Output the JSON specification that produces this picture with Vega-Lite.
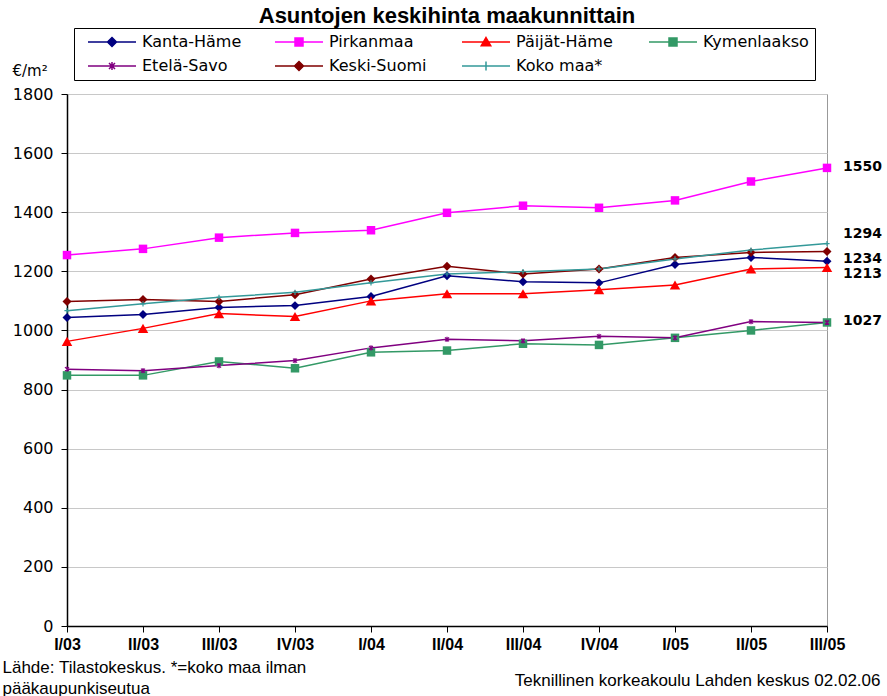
{
  "$schema": "https://vega.github.io/schema/vega-lite/v6.json",
  "width": 760,
  "height": 532,
  "autosize": "none",
  "padding": {"left": 67, "top": 94, "right": 60, "bottom": 70},
  "background": "white",
  "title": {
    "text": "Asuntojen keskihinta maakunnittain",
    "font": "Liberation Sans",
    "fontSize": 22,
    "fontWeight": "bold",
    "color": "#000",
    "anchor": "middle",
    "offset": 0
  },
  "datasets": {
    "hinnat": [
      {"kausi": "I/03", "alue": "Kanta-Häme", "hinta": 1044},
      {"kausi": "II/03", "alue": "Kanta-Häme", "hinta": 1054},
      {"kausi": "III/03", "alue": "Kanta-Häme", "hinta": 1078},
      {"kausi": "IV/03", "alue": "Kanta-Häme", "hinta": 1084},
      {"kausi": "I/04", "alue": "Kanta-Häme", "hinta": 1115},
      {"kausi": "II/04", "alue": "Kanta-Häme", "hinta": 1185},
      {"kausi": "III/04", "alue": "Kanta-Häme", "hinta": 1165},
      {"kausi": "IV/04", "alue": "Kanta-Häme", "hinta": 1161},
      {"kausi": "I/05", "alue": "Kanta-Häme", "hinta": 1223},
      {"kausi": "II/05", "alue": "Kanta-Häme", "hinta": 1247},
      {"kausi": "III/05", "alue": "Kanta-Häme", "hinta": 1234},
      {"kausi": "I/03", "alue": "Pirkanmaa", "hinta": 1255},
      {"kausi": "II/03", "alue": "Pirkanmaa", "hinta": 1276},
      {"kausi": "III/03", "alue": "Pirkanmaa", "hinta": 1314},
      {"kausi": "IV/03", "alue": "Pirkanmaa", "hinta": 1330},
      {"kausi": "I/04", "alue": "Pirkanmaa", "hinta": 1339},
      {"kausi": "II/04", "alue": "Pirkanmaa", "hinta": 1398},
      {"kausi": "III/04", "alue": "Pirkanmaa", "hinta": 1422},
      {"kausi": "IV/04", "alue": "Pirkanmaa", "hinta": 1415},
      {"kausi": "I/05", "alue": "Pirkanmaa", "hinta": 1440},
      {"kausi": "II/05", "alue": "Pirkanmaa", "hinta": 1504},
      {"kausi": "III/05", "alue": "Pirkanmaa", "hinta": 1550},
      {"kausi": "I/03", "alue": "Päijät-Häme", "hinta": 963},
      {"kausi": "II/03", "alue": "Päijät-Häme", "hinta": 1007},
      {"kausi": "III/03", "alue": "Päijät-Häme", "hinta": 1057},
      {"kausi": "IV/03", "alue": "Päijät-Häme", "hinta": 1047},
      {"kausi": "I/04", "alue": "Päijät-Häme", "hinta": 1100},
      {"kausi": "II/04", "alue": "Päijät-Häme", "hinta": 1124},
      {"kausi": "III/04", "alue": "Päijät-Häme", "hinta": 1124},
      {"kausi": "IV/04", "alue": "Päijät-Häme", "hinta": 1138},
      {"kausi": "I/05", "alue": "Päijät-Häme", "hinta": 1154},
      {"kausi": "II/05", "alue": "Päijät-Häme", "hinta": 1208},
      {"kausi": "III/05", "alue": "Päijät-Häme", "hinta": 1213},
      {"kausi": "I/03", "alue": "Kymenlaakso", "hinta": 848},
      {"kausi": "II/03", "alue": "Kymenlaakso", "hinta": 848},
      {"kausi": "III/03", "alue": "Kymenlaakso", "hinta": 895},
      {"kausi": "IV/03", "alue": "Kymenlaakso", "hinta": 872},
      {"kausi": "I/04", "alue": "Kymenlaakso", "hinta": 926},
      {"kausi": "II/04", "alue": "Kymenlaakso", "hinta": 932},
      {"kausi": "III/04", "alue": "Kymenlaakso", "hinta": 955},
      {"kausi": "IV/04", "alue": "Kymenlaakso", "hinta": 951},
      {"kausi": "I/05", "alue": "Kymenlaakso", "hinta": 975},
      {"kausi": "II/05", "alue": "Kymenlaakso", "hinta": 1000},
      {"kausi": "III/05", "alue": "Kymenlaakso", "hinta": 1027},
      {"kausi": "I/03", "alue": "Etelä-Savo", "hinta": 869},
      {"kausi": "II/03", "alue": "Etelä-Savo", "hinta": 864},
      {"kausi": "III/03", "alue": "Etelä-Savo", "hinta": 881},
      {"kausi": "IV/03", "alue": "Etelä-Savo", "hinta": 898},
      {"kausi": "I/04", "alue": "Etelä-Savo", "hinta": 941},
      {"kausi": "II/04", "alue": "Etelä-Savo", "hinta": 970},
      {"kausi": "III/04", "alue": "Etelä-Savo", "hinta": 965},
      {"kausi": "IV/04", "alue": "Etelä-Savo", "hinta": 980},
      {"kausi": "I/05", "alue": "Etelä-Savo", "hinta": 975},
      {"kausi": "II/05", "alue": "Etelä-Savo", "hinta": 1030},
      {"kausi": "III/05", "alue": "Etelä-Savo", "hinta": 1027},
      {"kausi": "I/03", "alue": "Keski-Suomi", "hinta": 1098},
      {"kausi": "II/03", "alue": "Keski-Suomi", "hinta": 1105},
      {"kausi": "III/03", "alue": "Keski-Suomi", "hinta": 1098},
      {"kausi": "IV/03", "alue": "Keski-Suomi", "hinta": 1121},
      {"kausi": "I/04", "alue": "Keski-Suomi", "hinta": 1174},
      {"kausi": "II/04", "alue": "Keski-Suomi", "hinta": 1217},
      {"kausi": "III/04", "alue": "Keski-Suomi", "hinta": 1191},
      {"kausi": "IV/04", "alue": "Keski-Suomi", "hinta": 1208},
      {"kausi": "I/05", "alue": "Keski-Suomi", "hinta": 1247},
      {"kausi": "II/05", "alue": "Keski-Suomi", "hinta": 1264},
      {"kausi": "III/05", "alue": "Keski-Suomi", "hinta": 1267},
      {"kausi": "I/03", "alue": "Koko maa*", "hinta": 1067},
      {"kausi": "II/03", "alue": "Koko maa*", "hinta": 1090},
      {"kausi": "III/03", "alue": "Koko maa*", "hinta": 1112},
      {"kausi": "IV/03", "alue": "Koko maa*", "hinta": 1129},
      {"kausi": "I/04", "alue": "Koko maa*", "hinta": 1161},
      {"kausi": "II/04", "alue": "Koko maa*", "hinta": 1191},
      {"kausi": "III/04", "alue": "Koko maa*", "hinta": 1199},
      {"kausi": "IV/04", "alue": "Koko maa*", "hinta": 1208},
      {"kausi": "I/05", "alue": "Koko maa*", "hinta": 1242},
      {"kausi": "II/05", "alue": "Koko maa*", "hinta": 1272},
      {"kausi": "III/05", "alue": "Koko maa*", "hinta": 1294}
    ]
  },
  "data": {"name": "hinnat"},
  "encoding": {
    "x": {
      "field": "kausi",
      "type": "ordinal",
      "sort": ["I/03", "II/03", "III/03", "IV/03", "I/04", "II/04", "III/04", "IV/04", "I/05", "II/05", "III/05"],
      "scale": {"type": "point", "padding": 0},
      "axis": {
        "title": ["Lähde: Tilastokeskus. *=koko maa ilman", "pääkaupunkiseutua"],
        "titleX": -65,
        "titleY": 33,
        "titleAlign": "left",
        "titleAnchor": "start",
        "titleBaseline": "top",
        "titleFont": "Liberation Sans",
        "titleFontSize": 17,
        "titleFontWeight": "normal",
        "titleColor": "#000",
        "titleLineHeight": 21,
        "labelAngle": 0,
        "labelFont": "Liberation Sans Narrow, Liberation Sans, sans-serif",
        "labelFontWeight": "bold",
        "labelFontSize": 16,
        "labelColor": "#000",
        "labelPadding": 4,
        "tickSize": 6,
        "tickColor": "#000",
        "domainColor": "#000",
        "domainWidth": 1.5,
        "grid": false
      }
    },
    "y": {
      "field": "hinta",
      "type": "quantitative",
      "scale": {"domain": [0, 1800], "nice": false},
      "axis": null
    }
  },
  "layer": [
    {
      "mark": {"type": "line", "strokeWidth": 1.5},
      "encoding": {
        "y": {
          "field": "hinta",
          "type": "quantitative",
          "scale": {"domain": [0, 1800], "nice": false},
          "axis": {
            "title": "€/m²",
            "titleAngle": 0,
            "titleX": -55,
            "titleY": -24,
            "titleAlign": "left",
            "titleBaseline": "middle",
            "titleFont": "DejaVu Sans",
            "titleFontSize": 15,
            "titleFontWeight": "normal",
            "titleColor": "#000",
            "values": [0, 200, 400, 600, 800, 1000, 1200, 1400, 1600, 1800],
            "format": "d",
            "labelFont": "DejaVu Sans",
            "labelFontSize": 16,
            "labelColor": "#000",
            "labelPadding": 8,
            "tickSize": 6,
            "tickColor": "#000",
            "domainColor": "#000",
            "domainWidth": 1.5,
            "grid": true,
            "gridColor": "#c8c8c8",
            "gridWidth": 1
          }
        },
        "color": {
          "field": "alue",
          "type": "nominal",
          "scale": {
            "domain": ["Kanta-Häme", "Pirkanmaa", "Päijät-Häme", "Kymenlaakso", "Etelä-Savo", "Keski-Suomi", "Koko maa*"],
            "range": ["#000080", "#ff00ff", "#ff0000", "#339966", "#800080", "#800000", "#339999"]
          },
          "legend": {
            "orient": "none",
            "legendX": 7,
            "legendY": -66,
            "direction": "horizontal",
            "columns": 4,
            "title": null,
            "strokeColor": "#000",
            "padding": 6,
            "symbolSize": 100,
            "symbolOffset": 24,
            "symbolStrokeWidth": 1.5,
            "labelFont": "DejaVu Sans",
            "labelFontSize": 16,
            "labelColor": "#000",
            "labelOffset": 22,
            "columnPadding": 19,
            "rowPadding": 8,
            "gridAlign": "all",
            "encode": {
              "symbols": {
                "update": {
                  "shape": {"signal": "datum.value === 'Pirkanmaa' || datum.value === 'Kymenlaakso' ? 'M-4.8,0H4.8M-0.8,-0.8H0.8V0.8H-0.8Z' : datum.value === 'Päijät-Häme' ? 'M-4.8,0H4.8M0,-0.9L0.95,0.75H-0.95Z' : datum.value === 'Etelä-Savo' ? 'M-4.8,0H4.8M-0.6,-0.6L0.6,0.6M-0.6,0.6L0.6,-0.6M0,-0.8V0.8' : datum.value === 'Koko maa*' ? 'M-4.8,0H4.8M0,-0.9V0.9' : 'M-4.8,0H4.8M0,-0.9L0.9,0L0,0.9L-0.9,0Z'"},
                  "fill": {"scale": "color", "field": "value"},
                  "stroke": {"scale": "color", "field": "value"},
                  "strokeWidth": {"value": 1.5},
                  "opacity": {"value": 1}
                }
              }
            }
          }
        }
      }
    },
    {
      "transform": [{"filter": "datum.alue === 'Kanta-Häme' || datum.alue === 'Keski-Suomi'"}],
      "mark": {"type": "point", "shape": "diamond", "filled": true, "size": 80, "opacity": 1},
      "encoding": {"color": {"field": "alue", "type": "nominal"}}
    },
    {
      "transform": [{"filter": "datum.alue === 'Pirkanmaa' || datum.alue === 'Kymenlaakso'"}],
      "mark": {"type": "point", "shape": "square", "filled": true, "size": 72, "opacity": 1},
      "encoding": {"color": {"field": "alue", "type": "nominal"}}
    },
    {
      "transform": [{"filter": "datum.alue === 'Päijät-Häme'"}],
      "mark": {"type": "point", "shape": "triangle-up", "filled": true, "size": 110, "opacity": 1},
      "encoding": {"color": {"field": "alue", "type": "nominal"}}
    },
    {
      "transform": [{"filter": "datum.alue === 'Etelä-Savo'"}],
      "mark": {"type": "point", "shape": "M-1,-1L1,1M-1,1L1,-1M0,-1.3V1.3", "filled": false, "size": 16, "strokeWidth": 1.2, "opacity": 1},
      "encoding": {"color": {"field": "alue", "type": "nominal"}}
    },
    {
      "transform": [{"filter": "datum.alue === 'Koko maa*'"}],
      "mark": {"type": "point", "shape": "M-1.3,0H1.3M0,-1.3V1.3", "filled": false, "size": 16, "strokeWidth": 1.2, "opacity": 1},
      "encoding": {"color": {"field": "alue", "type": "nominal"}}
    },
    {
      "transform": [{"filter": "datum.kausi === 'III/05' && (datum.alue === 'Pirkanmaa' || datum.alue === 'Kymenlaakso')"}],
      "mark": {"type": "text", "align": "left", "baseline": "middle", "dx": 16, "dy": -1, "font": "DejaVu Sans", "fontWeight": "bold", "fontSize": 14, "color": "#000"},
      "encoding": {
        "y": {
          "field": "hinta",
          "type": "quantitative",
          "scale": {"domain": [0, 1800], "nice": false},
          "axis": {
            "orient": "right",
            "labels": false,
            "ticks": false,
            "domain": false,
            "grid": false,
            "title": "Teknillinen korkeakoulu Lahden keskus 02.02.06",
            "titleAngle": 0,
            "titleAlign": "right",
            "titleBaseline": "top",
            "titleX": 53,
            "titleY": 578,
            "titleFont": "Liberation Sans",
            "titleFontSize": 17,
            "titleFontWeight": "normal",
            "titleColor": "#000"
          }
        },
        "text": {"field": "hinta", "type": "quantitative"}
      }
    },
    {
      "transform": [{"filter": "datum.kausi === 'III/05' && datum.alue === 'Kanta-Häme'"}],
      "mark": {"type": "text", "align": "left", "baseline": "middle", "dx": 16, "dy": -2, "font": "DejaVu Sans", "fontWeight": "bold", "fontSize": 14, "color": "#000"},
      "encoding": {"text": {"field": "hinta", "type": "quantitative"}}
    },
    {
      "transform": [{"filter": "datum.kausi === 'III/05' && datum.alue === 'Koko maa*'"}],
      "mark": {"type": "text", "align": "left", "baseline": "middle", "dx": 16, "dy": -10, "font": "DejaVu Sans", "fontWeight": "bold", "fontSize": 14, "color": "#000"},
      "encoding": {"text": {"field": "hinta", "type": "quantitative"}}
    },
    {
      "transform": [{"filter": "datum.kausi === 'III/05' && datum.alue === 'Päijät-Häme'"}],
      "mark": {"type": "text", "align": "left", "baseline": "middle", "dx": 16, "dy": 7, "font": "DejaVu Sans", "fontWeight": "bold", "fontSize": 14, "color": "#000"},
      "encoding": {"text": {"field": "hinta", "type": "quantitative"}}
    }
  ],
  "resolve": {"axis": {"y": "independent"}},
  "config": {
    "view": {"stroke": "#999999", "strokeWidth": 1},
    "legend": {"gridAlign": "all"}
  }
}
